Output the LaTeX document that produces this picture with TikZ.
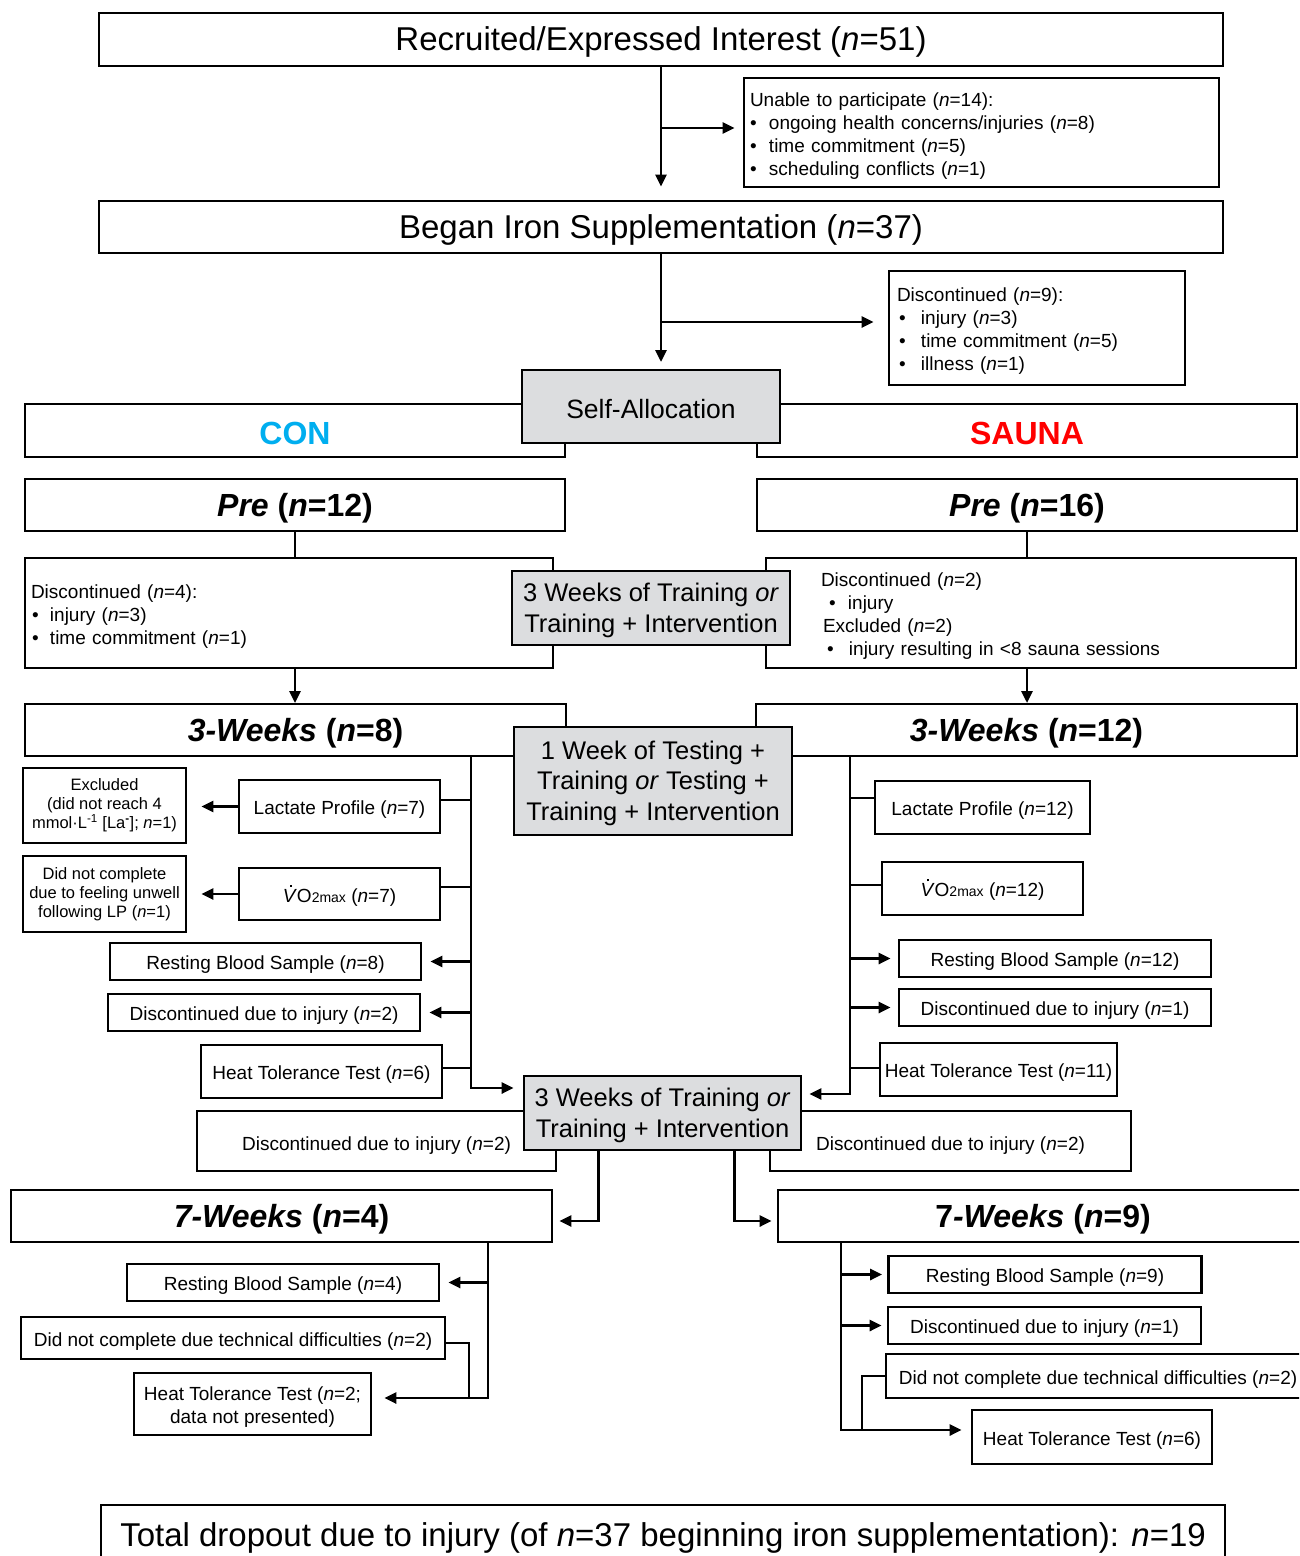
\documentclass[tikz,border=0pt]{standalone}
\usepackage{fontspec}
\setmainfont{Liberation Sans}
\usetikzlibrary{arrows.meta,calc}
\definecolor{boxgray}{RGB}{220,221,223}
\definecolor{concyan}{RGB}{0,174,239}
\definecolor{saunared}{RGB}{255,0,0}
\newcommand{\fsS}{\fontsize{19}{23}\selectfont}
\newcommand{\fsX}{\fontsize{16.5}{19}\selectfont}
\newcommand{\fsM}{\fontsize{25.5}{30.5}\selectfont}
\newcommand{\fsH}{\fontsize{32}{36}\selectfont\bfseries}
\newcommand{\fsT}{\fontsize{33}{38}\selectfont}
\newcommand{\nn}{\textit{n}}
\newcommand{\VOmax}{\rlap{\hspace{0.36em}\raisebox{0.8em}{\rule{1.9pt}{1.9pt}}}\textit{V}O{\fontsize{14}{14}\selectfont 2max}}
\newcommand{\bul}[1]{\makebox[#1][l]{•}}
\newcommand{\lowerby}[1]{\rule{0pt}{\dimexpr\fontcharht\font 40+#1\relax}}
\tikzset{
  down/.style={execute at begin node={\lowerby{#1}}},
  box/.style={draw, line width=2.8pt, fill=white, inner sep=0pt, align=center, down=7pt},
  gbox/.style={box, fill=boxgray},
  lbox/.style={draw, line width=2.8pt, fill=white, inner ysep=0pt, align=left, down=7pt},
  ln/.style={line width=2.8pt},
  arr/.style={ln, -{Triangle[length=12pt,width=11pt]}},
}
\begin{document}
\begin{tikzpicture}[x=1pt,y=-1pt]
\path[use as bounding box, fill=white] (0,0) rectangle (1299,1556);
\clip (0,0) rectangle (1299,1556);

% ---------- top ----------
\node[box, minimum width=1124pt, minimum height=53pt, font=\fsT] (recr) at (661,39.5) {Recruited/Expressed Interest (\nn=51)};
\node[lbox, minimum height=109pt, text width=463pt, inner xsep=6pt, font=\fsS] (unable) at (981.5,132.5)
  {Unable to participate (\nn=14):\\
   \bul{19pt}ongoing health concerns/injuries (\nn=8)\\
   \bul{19pt}time commitment (\nn=5)\\
   \bul{19pt}scheduling conflicts (\nn=1)};
\node[box, minimum width=1124pt, minimum height=52pt, font=\fsT] (began) at (661,227) {Began Iron Supplementation (\nn=37)};
\node[lbox, down=0pt, minimum height=114pt, text width=280pt, inner xsep=8pt, font=\fsS] (disc9) at (1037,328)
  {Discontinued (\nn=9):\\
   \hspace{2pt}\bul{22pt}injury (\nn=3)\\
   \hspace{2pt}\bul{22pt}time commitment (\nn=5)\\
   \hspace{2pt}\bul{22pt}illness (\nn=1)};

\draw[arr, shorten >=13pt] (recr.south) -- (recr.south |- began.north);
\draw[arr, shorten >=8pt] ([yshift=4.5pt]recr.south |- unable.west) -- ([yshift=4.5pt]unable.west);
\draw[arr, shorten >=8pt] (began.south) -- (began.south |- 0,370);
\draw[arr, shorten >=14pt] ([yshift=6pt]began.south |- disc9.west) -- ([yshift=6pt]disc9.west);

% ---------- allocation ----------
\node[box, down=4pt, minimum width=540pt, minimum height=53pt, font=\fsH, text=concyan] (con) at (295,430.5) {CON};
\node[box, down=3pt, minimum width=540pt, minimum height=53pt, font=\fsH, text=saunared] (sauna) at (1027,430.5) {SAUNA};
\node[gbox, down=2pt, minimum width=258pt, minimum height=73pt, font=\fontsize{26.5}{30}\selectfont] (self) at (651,406.5) {Self-Allocation};

\node[box, down=8pt, minimum width=540pt, minimum height=52pt, font=\fsH] (pre12) at (295,505) {\textit{Pre} (\textit{n}=12)};
\node[box, down=8pt, minimum width=540pt, minimum height=52pt, font=\fsH] (pre16) at (1027,505) {\textit{Pre} (\textit{n}=16)};

\node[lbox, down=8pt, minimum height=110pt, text width=516pt, inner xsep=6pt, font=\fsS] (disc4) at (289,613)
  {Discontinued (\nn=4):\\
   \hspace{1pt}\bul{18pt}injury (\nn=3)\\
   \hspace{1pt}\bul{18pt}time commitment (\nn=1)};
\node[lbox, minimum height=110pt, text width=420pt, inner xsep=55pt, font=\fsS] (disc2) at (1031,613)
  {Discontinued (\nn=2)\\
   \hspace{8pt}\bul{19pt}injury\\
   \hspace{2pt}Excluded (\nn=2)\\
   \hspace{6pt}\bul{22pt}injury resulting in <8 sauna sessions};
\node[gbox, down=0pt, minimum width=278pt, minimum height=74pt, font=\fsM] (train1) at (651,608) {\lowerby{6pt}3 Weeks of Training \textit{or}\\Training + Intervention};

\draw[ln] (pre12.south) -- (pre12.south |- disc4.north);
\draw[arr, shorten >=1pt] (pre12.south |- disc4.south) -- (pre12.south |- 0,704);
\draw[ln] (pre16.south) -- (pre16.south |- disc2.north);
\draw[arr, shorten >=1pt] (pre16.south |- disc2.south) -- (pre16.south |- 0,704);

\node[box, down=8pt, minimum width=541pt, minimum height=52pt, font=\fsH] (wk3a) at (295.5,730) {\textit{3-Weeks} (\textit{n}=8)};
\node[box, down=8pt, minimum width=541pt, minimum height=52pt, font=\fsH] (wk3b) at (1026.5,730) {\textit{3-Weeks} (\textit{n}=12)};
\node[gbox, down=0pt, minimum width=278pt, minimum height=108pt, font=\fsM] (week1) at (653,781) {\lowerby{5pt}1 Week of Testing +\\Training \textit{or} Testing +\\Training + Intervention};

% ---------- CON 3-week tests ----------
\node[box, minimum width=201pt, minimum height=53pt, font=\fsS] (lacL) at (339.5,806.5) {Lactate Profile (\nn=7)};
\node[box, down=0pt, minimum width=163pt, minimum height=75pt, font=\fsX] (exclL) at (104.5,805.5) {Excluded\\(did not reach 4\\mmol·L\textsuperscript{-1} [La\textsuperscript{\textbf{-}}]; \nn=1)};
\node[box, minimum width=201pt, minimum height=52pt, font=\fsS] (vo2L) at (339.5,894) {\VOmax{} (\nn=7)};
\node[box, down=0pt, minimum width=163pt, minimum height=76pt, font=\fsX] (dncL) at (104.5,894) {\lowerby{2pt}Did not complete\\due to feeling unwell\\following LP (\nn=1)};
\node[box, minimum width=311pt, minimum height=37pt, font=\fsS] (rbsL) at (265.5,961.5) {Resting Blood Sample (\nn=8)};
\node[box, minimum width=312pt, minimum height=37pt, font=\fsS] (dinjL) at (264,1012.5) {Discontinued due to injury (\nn=2)};
\node[box, down=4pt, minimum width=241pt, minimum height=53pt, font=\fsS] (httL) at (321.5,1071.5) {Heat Tolerance Test (\nn=6)};

% ---------- SAUNA 3-week tests ----------
\node[box, minimum width=215pt, minimum height=53pt, font=\fsS] (lacR) at (982.5,807.5) {Lactate Profile (\nn=12)};
\node[box, minimum width=201pt, minimum height=53pt, font=\fsS] (vo2R) at (982.5,888.5) {\VOmax{} (\nn=12)};
\node[box, minimum width=312pt, minimum height=37pt, font=\fsS] (rbsR) at (1055,958.5) {Resting Blood Sample (\nn=12)};
\node[box, minimum width=312pt, minimum height=37pt, font=\fsS] (dinjR) at (1055,1007.5) {Discontinued due to injury (\nn=1)};
\node[box, minimum width=237pt, minimum height=53pt, font=\fsS] (httR) at (998.5,1069.5) {Heat Tolerance Test (\nn=11)};

% ---------- second training block ----------
\node[box, down=10pt, minimum width=359pt, minimum height=60pt, font=\fsS] (dinj2L) at (376.5,1141) {Discontinued due to injury (\nn=2)};
\node[box, down=10pt, minimum width=361pt, minimum height=60pt, font=\fsS] (dinj2R) at (950.5,1141) {Discontinued due to injury (\nn=2)};
\node[gbox, down=0pt, minimum width=277pt, minimum height=74pt, font=\fsM] (train2) at (662.5,1113) {\lowerby{6pt}3 Weeks of Training \textit{or}\\Training + Intervention};

\coordinate (sLt) at (471,757);
\coordinate (sLb) at (471,1088);
\draw[arr, shorten >=9pt] (sLt) -- (sLb) -- (sLb -| train2.west);
\draw[ln] ([yshift=6.5pt]lacL.east) -- ([yshift=6.5pt]lacL.east -| sLt);
\draw[ln] ([yshift=7pt]vo2L.east) -- ([yshift=7pt]vo2L.east -| sLt);
\draw[ln] ([yshift=3.5pt]httL.east) -- ([yshift=3.5pt]httL.east -| sLt);
\draw[arr, shorten >=8pt] (rbsL.east -| sLt) -- (rbsL.east);
\draw[arr, shorten >=8pt] (dinjL.east -| sLt) -- (dinjL.east);
\draw[arr, shorten >=14pt] (lacL.west) -- (lacL.west -| exclL.east);
\draw[arr, shorten >=14pt] (vo2L.west) -- (vo2L.west -| dncL.east);

\coordinate (sRt) at (850,757);
\coordinate (sRb) at (850,1094);
\draw[arr, shorten >=7pt] (sRt) -- (sRb) -- (sRb -| train2.east);
\draw[ln] ([yshift=9.5pt]lacR.west) -- ([yshift=9.5pt]lacR.west -| sRt);
\draw[ln] ([yshift=3.5pt]vo2R.west) -- ([yshift=3.5pt]vo2R.west -| sRt);
\draw[ln] ([yshift=1.5pt]httR.west) -- ([yshift=1.5pt]httR.west -| sRt);
\draw[arr, shorten >=7pt] (rbsR.west -| sRt) -- (rbsR.west);
\draw[arr, shorten >=7pt] (dinjR.west -| sRt) -- (dinjR.west);

% ---------- 7 weeks ----------
\node[box, down=8pt, minimum width=541pt, minimum height=52pt, font=\fsH] (wk7L) at (281.5,1216) {\textit{7-Weeks} (\textit{n}=4)};
\node[box, down=8pt, minimum width=530pt, minimum height=52pt, font=\fsH] (wk7R) at (1043,1216) {7\textit{-Weeks} (\textit{n}=9)};

\draw[arr, shorten >=6pt] ([xshift=76pt]train2.south west) |- ([yshift=-5pt]wk7L.east);
\draw[arr, shorten >=5pt] ([xshift=-68pt]train2.south east) |- ([yshift=-5pt]wk7R.west);

\node[box, minimum width=312pt, minimum height=37pt, font=\fsS] (rbs7L) at (283,1282.5) {Resting Blood Sample (\nn=4)};
\node[box, down=5pt, minimum width=424pt, minimum height=42pt, font=\fsS] (dnc7L) at (233,1338) {Did not complete due technical difficulties (\nn=2)};
\node[box, down=0pt, minimum width=237pt, minimum height=62pt, font=\fsS] (htt7L) at (252.5,1404) {\lowerby{6pt}Heat Tolerance Test (\nn=2;\\data not presented)};

\coordinate (s7Lt) at (488,1242);
\coordinate (s7Lb) at (488,1398);
\coordinate (j7L) at (469,1398);
\draw[arr, shorten >=12pt] (s7Lt) -- (s7Lb) -- (s7Lb -| htt7L.east);
\draw[arr, shorten >=8pt] (rbs7L.east -| s7Lt) -- (rbs7L.east);
\draw[ln] ([yshift=-5pt]dnc7L.east) -| (j7L);

\node[box, minimum width=313pt, minimum height=37pt, font=\fsS] (rbs7R) at (1045,1274.5) {Resting Blood Sample (\nn=9)};
\node[box, minimum width=313pt, minimum height=37pt, font=\fsS] (dinj7R) at (1044.5,1325.5) {Discontinued due to injury (\nn=1)};
\node[box, minimum width=424pt, minimum height=44pt, font=\fsS] (dnc7R) at (1098,1376) {Did not complete due technical difficulties (\nn=2)};
\node[box, minimum width=240pt, minimum height=54pt, font=\fsS] (htt7R) at (1092,1437) {Heat Tolerance Test (\nn=6)};

\coordinate (s7Rt) at (841,1242);
\coordinate (s7Rb) at (841,1430);
\coordinate (j7R) at (862,1430);
\draw[arr, shorten >=9pt] (s7Rt) -- (s7Rb) -- (s7Rb -| htt7R.west);
\draw[arr, shorten >=5pt] (rbs7R.west -| s7Rt) -- (rbs7R.west);
\draw[arr, shorten >=5pt] (dinj7R.west -| s7Rt) -- (dinj7R.west);
\draw[ln] (dnc7R.west) -| (j7R);

% ---------- total ----------
\node[box, minimum width=1124pt, minimum height=60pt, font=\fsT] (total) at (663,1535) {Total dropout due to injury (of \nn=37 beginning iron supplementation): \nn=19};
\end{tikzpicture}
\end{document}
